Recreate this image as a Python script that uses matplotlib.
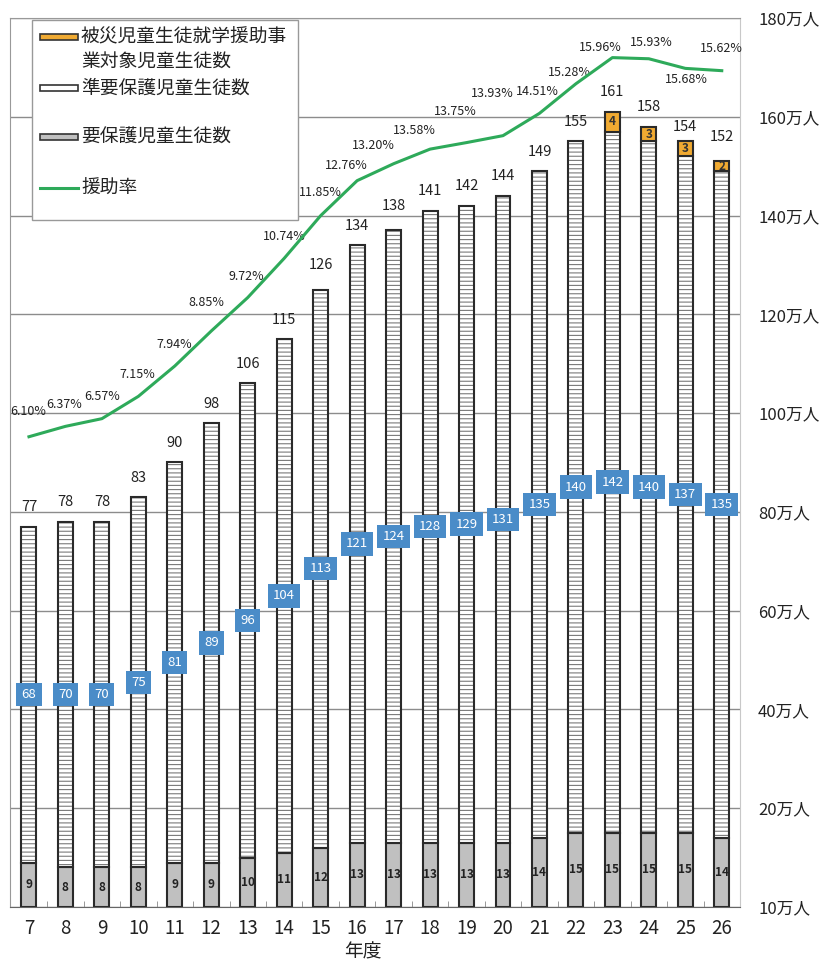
import matplotlib
matplotlib.use('Agg')
import matplotlib.pyplot as plt
import numpy as np
from matplotlib.patches import Rectangle
from matplotlib.lines import Line2D

plt.rcParams['font.family'] = ['Noto Sans CJK JP', 'DejaVu Sans']
plt.rcParams['hatch.linewidth'] = 0.8

# 年度 (平成)
years = ['7', '8', '9', '10', '11', '12', '13', '14', '15', '16',
         '17', '18', '19', '20', '21', '22', '23', '24', '25', '26']
# 要保護児童生徒数 (万人)
yohogo = [9, 8, 8, 8, 9, 9, 10, 11, 12, 13, 13, 13, 13, 13, 14, 15, 15, 15, 15, 14]
# 準要保護児童生徒数 (万人)
jun_yohogo = [68, 70, 70, 75, 81, 89, 96, 104, 113, 121, 124, 128, 129, 131, 135,
              140, 142, 140, 137, 135]
# 被災児童生徒就学援助事業対象児童生徒数 (万人)
hisai = [0, 0, 0, 0, 0, 0, 0, 0, 0, 0, 0, 0, 0, 0, 0, 0, 4, 3, 3, 2]
# 合計 (万人)
totals = [77, 78, 78, 83, 90, 98, 106, 115, 126, 134, 138, 141, 142, 144, 149,
          155, 161, 158, 154, 152]
# 援助率 (%)
rate = [6.10, 6.37, 6.57, 7.15, 7.94, 8.85, 9.72, 10.74, 11.85, 12.76, 13.20,
        13.58, 13.75, 13.93, 14.51, 15.28, 15.96, 15.93, 15.68, 15.62]

y_ticks = [0, 20, 40, 60, 80, 100, 120, 140, 160, 180]
y_labels = ['10万人', '20万人', '40万人', '60万人', '80万人', '100万人',
            '120万人', '140万人', '160万人', '180万人']

# label offsets (pixels) for the rate labels
rate_off = [(-1, 25), (-1, 22), (0, 22), (-1, 22), (-1, 21), (-5, 28), (-1, 21),
            (0, 22), (0, 23), (-11, 15), (-20, 18), (-16, 19), (-11, 31), (-11, 42),
            (-2, 22), (-7, 11), (-12, 10), (2, 16), (1, -11), (0, 22)]

W, H = 822, 965
fig = plt.figure(figsize=(W / 100, H / 100), dpi=100)
ax = fig.add_axes([10 / W, 58 / H, 730 / W, 889 / H])

x = np.arange(len(years))
bw = 0.41
yohogo = np.array(yohogo)
jun_yohogo = np.array(jun_yohogo)
hisai = np.array(hisai)

edge = '#2a2a2a'
# gray segment
ax.bar(x, yohogo, bw, color='#c0c0c0', edgecolor=edge, linewidth=1.5, zorder=3)
# hatched white segment: hatch layer then outline
ax.bar(x, jun_yohogo, bw, bottom=yohogo, color='white', edgecolor='#7a7a7a',
       hatch='----', linewidth=0, zorder=3)
ax.bar(x, jun_yohogo, bw, bottom=yohogo, color='none', edgecolor=edge,
       linewidth=1.5, zorder=4)
# orange segment
mask = hisai > 0
ax.bar(x[mask], hisai[mask], bw, bottom=(yohogo + jun_yohogo)[mask], color='#f0aa32',
       edgecolor=edge, linewidth=1.5, zorder=4)

for i in range(len(years)):
    ax.text(x[i], yohogo[i] / 2, str(yohogo[i]), ha='center', va='center',
            fontsize=8.5, fontweight='bold', color='#222222', zorder=6)
    ax.text(x[i], yohogo[i] + jun_yohogo[i] / 2, str(jun_yohogo[i]), ha='center',
            va='center', fontsize=9.5, color='white', zorder=7,
            bbox=dict(boxstyle='square,pad=0.4', facecolor='#4a8cc8', edgecolor='none'))
    if hisai[i] > 0:
        ax.text(x[i], yohogo[i] + jun_yohogo[i] + hisai[i] / 2, str(hisai[i]),
                ha='center', va='center', fontsize=8.5, fontweight='bold',
                color='#333333', zorder=7)
    ax.annotate(str(totals[i]), (x[i], totals[i]), xytext=(0, 14),
                textcoords='offset points', ha='center', va='center',
                fontsize=10.5, color='#222222', zorder=6)

ax.set_xlim(-0.52, 19.5)
ax.set_ylim(0, 180)
ax.set_xticks(x)
ax.set_xticklabels(years, fontsize=13.5, color='#222222')
ax.tick_params(axis='x', which='major', length=0, pad=8)
ax.set_xticks(x[:-1] + 0.5, minor=True)
ax.tick_params(axis='x', which='minor', direction='in', length=4, color='#888888')
ax.grid(axis='y', color='#8c8c8c', linewidth=1.0, zorder=0)
ax.set_axisbelow(True)
for s in ['left', 'top']:
    ax.spines[s].set_color('#999999')
ax.spines['right'].set_color('#c8c8c8')
ax.spines['bottom'].set_color('#666666')

# rate line on its own scale
ax2 = ax.twinx()
ax2.set_ylim(-6.13, 16.99)
ax2.plot(x, rate, color='#2eaa5a', linewidth=2.2, zorder=5)
for i in range(len(years)):
    dx, dy = rate_off[i]
    ax2.annotate('%.2f%%' % rate[i], (x[i], rate[i]), xytext=(dx * 0.72, dy * 0.72),
                 textcoords='offset points', ha='center', va='center',
                 fontsize=9, color='#222222')
ax2.set_yticks([])
for s in ax2.spines.values():
    s.set_visible(False)

# twinx moves the left axis ticks; put them back on the right
ax.yaxis.tick_right()
ax.set_yticks(y_ticks)
ax.set_yticklabels(y_labels, fontsize=12, color='#222222')
ax.tick_params(axis='y', length=0, pad=13, left=False, labelleft=False,
               right=False, labelright=True)

fig.text(363 / W, 1 - 952 / H, '年度', ha='center', va='center', fontsize=13.5,
         color='#222222')

# legend box
def fp(px, py):
    return (px / W, 1 - py / H)

tf = fig.transFigure
x0, y0 = fp(32, 220)
x1, y1 = fp(298, 20)
fig.patches.append(Rectangle((x0, y0), x1 - x0, y1 - y0, transform=tf, facecolor='white',
                             edgecolor='#999999', linewidth=1.0, zorder=10))
entries = [('#f0aa32', 37), ('white', 88), ('#c0c0c0', 137)]
for col, py in entries:
    hx, hy = fp(40, py + 3)
    fig.patches.append(Rectangle((hx, hy), 38 / W, 6 / H, transform=tf, facecolor=col,
                                 edgecolor='#333333', linewidth=1.2, zorder=11))
lx0, ly = fp(40, 188)
lx1, _ = fp(78, 188)
fig.lines.append(Line2D([lx0, lx1], [ly, ly], transform=tf, color='#2eaa5a',
                        linewidth=2.2, zorder=11))
legend_texts = [('被災児童生徒就学援助事', 37), ('業対象児童生徒数', 62),
                ('準要保護児童生徒数', 88), ('要保護児童生徒数', 137), ('援助率', 188)]
for t, py in legend_texts:
    tx, ty = fp(81, py)
    fig.text(tx, ty, t, ha='left', va='center', fontsize=13.5, color='#222222', zorder=12)

fig.savefig('out.png', dpi=100)
